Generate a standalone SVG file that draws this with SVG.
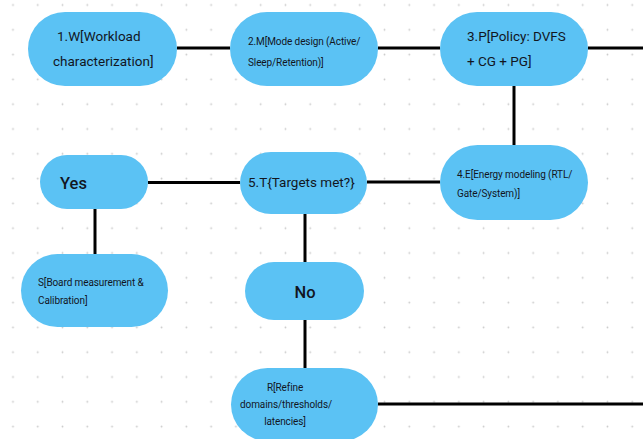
<svg xmlns="http://www.w3.org/2000/svg" width="643" height="439" viewBox="0 0 643 439">
  <defs>
    <pattern id="dots" patternUnits="userSpaceOnUse" x="0.6" y="-7.4" width="24.77" height="24.8">
      <circle cx="12.385" cy="12.4" r="0.9" fill="#c9c9c9"/>
    </pattern>
  </defs>
  <style>
    .node rect { fill: #5bc2f4; }
    .node text { font-family: Roboto, "Liberation Sans", sans-serif; fill: #12161f; font-weight: 400; }
    .big { font-size: 13.5px; }
    .small { font-size: 10px; letter-spacing: -0.1px; }
    .ans { font-size: 16.5px; font-weight: 500 !important; }
    .edges path { stroke: #000; stroke-width: 3; fill: none; }
  </style>
  <rect width="643" height="439" fill="#ffffff"/>
  <rect width="643" height="439" fill="url(#dots)"/>

  <g class="edges" id="connectors">
    <path d="M177 48 H230"/>
    <path d="M378 48 H440"/>
    <path d="M588 48 H643"/>
    <path d="M514 86 V145"/>
    <path d="M440 182 H367"/>
    <path d="M240 182.5 H148"/>
    <path d="M95 209 V254"/>
    <path d="M305 214 V262"/>
    <path d="M305 320 V368"/>
    <path d="M378 404 H643"/>
  </g>

  <g class="node" id="W">
    <rect x="28" y="12" width="149" height="74" rx="37"/>
    <text class="big" x="57" y="41">1.W[Workload</text>
    <text class="big" x="53" y="66">characterization]</text>
  </g>
  <g class="node" id="M">
    <rect x="230" y="12" width="148" height="74" rx="37"/>
    <text class="small" x="248" y="44.5">2.M[Mode design (Active/</text>
    <text class="small" x="248" y="66">Sleep/Retention)]</text>
  </g>
  <g class="node" id="P">
    <rect x="440" y="12" width="148" height="74" rx="37"/>
    <text class="big" x="467" y="41">3.P[Policy: DVFS</text>
    <text class="big" x="467" y="66">+ CG + PG]</text>
  </g>
  <g class="node" id="E">
    <rect x="440" y="145" width="148" height="75" rx="37.5"/>
    <text class="small" x="457" y="177.5">4.E[Energy modeling (RTL/</text>
    <text class="small" x="457" y="196.5">Gate/System)]</text>
  </g>
  <g class="node" id="T">
    <rect x="240" y="152" width="127" height="62" rx="31"/>
    <text class="big" x="248" y="187">5.T{Targets met?}</text>
  </g>
  <g class="node" id="Yes">
    <rect x="40" y="155" width="108" height="54" rx="27"/>
    <text class="ans" x="60" y="189">Yes</text>
  </g>
  <g class="node" id="S">
    <rect x="21" y="254" width="147" height="73" rx="36.5"/>
    <text class="small" x="38" y="285.5">S[Board measurement &amp;</text>
    <text class="small" x="38" y="304">Calibration]</text>
  </g>
  <g class="node" id="No">
    <rect x="245" y="262" width="119" height="58" rx="29"/>
    <text class="ans" x="305" y="298" text-anchor="middle">No</text>
  </g>
  <g class="node" id="R">
    <rect x="231" y="368" width="147" height="73" rx="36.5"/>
    <text class="small" x="285" y="391" text-anchor="middle">R[Refine</text>
    <text class="small" x="286" y="408" text-anchor="middle">domains/thresholds/</text>
    <text class="small" x="285" y="425" text-anchor="middle">latencies]</text>
  </g>
</svg>
